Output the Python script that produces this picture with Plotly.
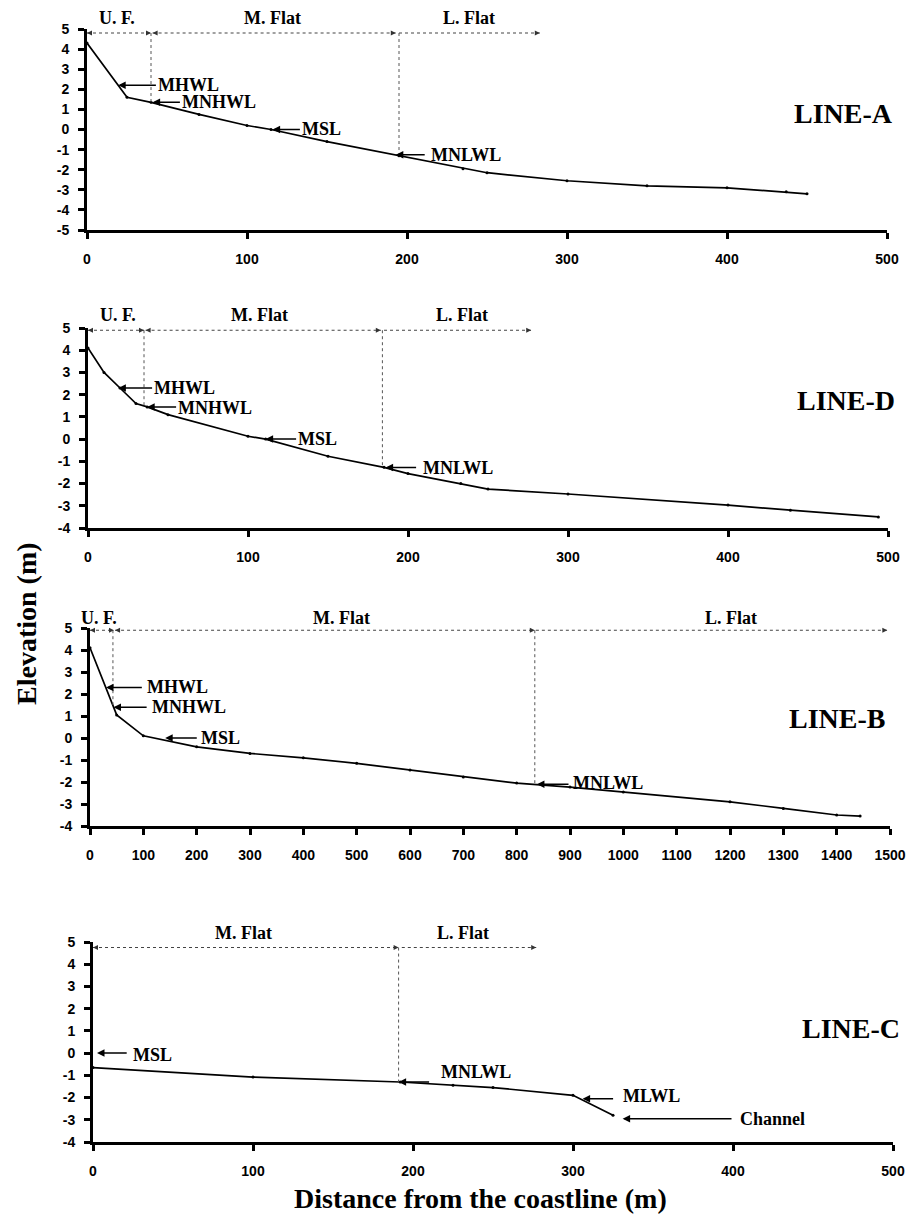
import plotly.graph_objects as go

W, H = 911, 1219

# ---------------- data ----------------
# Profile LINE-A
a_dist = [0, 25, 40, 70, 100, 115, 150, 195, 235, 250, 300, 350, 400, 437, 450]
a_elev = [4.3, 1.6, 1.35, 0.75, 0.2, 0.0, -0.6, -1.3, -1.95, -2.15, -2.55, -2.8, -2.9, -3.1, -3.2]
# Profile LINE-D
d_dist = [0, 10, 20, 30, 37, 50, 100, 111, 150, 185, 200, 233, 250, 300, 400, 439, 494]
d_elev = [4.1, 3.0, 2.3, 1.6, 1.45, 1.1, 0.13, 0.0, -0.77, -1.27, -1.55, -2.0, -2.25, -2.47, -2.97, -3.2, -3.5]
# Profile LINE-B
b_dist = [0, 50, 100, 200, 300, 400, 500, 600, 700, 800, 900, 1000, 1200, 1300, 1400, 1444]
b_elev = [4.1, 1.05, 0.1, -0.4, -0.7, -0.9, -1.15, -1.45, -1.77, -2.05, -2.23, -2.45, -2.9, -3.2, -3.5, -3.55]
# Profile LINE-C
c_dist = [0, 100, 192, 225, 250, 300, 325]
c_elev = [-0.65, -1.08, -1.3, -1.45, -1.55, -1.9, -2.8]

# Axis tick values
elev_ticks_a = [-5, -4, -3, -2, -1, 0, 1, 2, 3, 4, 5]
elev_ticks = [-4, -3, -2, -1, 0, 1, 2, 3, 4, 5]
dist_ticks_500 = [0, 100, 200, 300, 400, 500]
dist_ticks_1500 = [0, 100, 200, 300, 400, 500, 600, 700, 800, 900, 1000,
                   1100, 1200, 1300, 1400, 1500]

# Tidal-flat zones (start, end, label position)
a_zone_names = ["U. F.", "M. Flat", "L. Flat"]
a_zone_start = [0, 41, 195]
a_zone_end = [40, 193, 283]
a_zone_label_x = [19, 116, 239]
a_boundary_x = [40, 195]
a_boundary_elev = [1.35, -1.3]

d_zone_names = ["U. F.", "M. Flat", "L. Flat"]
d_zone_start = [0, 36, 185]
d_zone_end = [35, 183, 277]
d_zone_label_x = [19, 107, 234]
d_boundary_x = [35, 184]
d_boundary_elev = [1.45, -1.27]

b_zone_names = ["U. F.", "M. Flat", "L. Flat"]
b_zone_start = [0, 47, 836]
b_zone_end = [45, 834, 1495]
b_zone_label_x = [17, 472, 1202]
b_boundary_x = [43, 834]
b_boundary_elev = [1.5, -2.05]

c_zone_names = ["M. Flat", "L. Flat"]
c_zone_start = [0, 193]
c_zone_end = [191, 277]
c_zone_label_x = [94, 231]
c_boundary_x = [191]
c_boundary_elev = [-1.3]

# Water-level markers
a_lvl_names = ["MHWL", "MNHWL", "MSL", "MNLWL"]
a_lvl_head_x = [19.5, 41, 116, 193]
a_lvl_elev = [2.2, 1.35, 0.0, -1.25]
a_lvl_tail_x = [44, 59, 134, 212]
a_lvl_text_x = [43, 58, 133, 214]
a_lvl_text_elev = [2.2, 1.35, 0.0, -1.25]

d_lvl_names = ["MHWL", "MNHWL", "MSL", "MNLWL"]
d_lvl_head_x = [19, 37, 111, 186]
d_lvl_elev = [2.3, 1.45, 0.0, -1.28]
d_lvl_tail_x = [41, 56, 131, 206]
d_lvl_text_x = [40, 55, 130, 208]
d_lvl_text_elev = [2.3, 1.4, 0.0, -1.28]

b_lvl_names = ["MHWL", "MNHWL", "MSL", "MNLWL"]
b_lvl_head_x = [30, 44, 141, 838]
b_lvl_elev = [2.3, 1.4, 0.0, -2.1]
b_lvl_tail_x = [100, 109, 203, 900]
b_lvl_text_x = [103, 113, 204, 902]
b_lvl_text_elev = [2.3, 1.4, 0.0, -2.05]

c_lvl_names = ["MSL", "MNLWL", "MLWL", "Channel"]
c_lvl_head_x = [2.5, 191, 306, 331]
c_lvl_elev = [0.0, -1.3, -2.05, -2.95]
c_lvl_tail_x = [22, 211, 326, 400]
c_lvl_text_x = [24, 216, 330, 403]
c_lvl_text_elev = [-0.1, -0.85, -1.95, -2.95]

line_names = ["LINE-A", "LINE-D", "LINE-B", "LINE-C"]

# ---------------- layout geometry (pixels) ----------------
panels = [
    dict(name=line_names[0], dist=a_dist, elev=a_elev, xr=[0, 500], yr=[-5, 5],
         xt=dist_ticks_500, yt=elev_ticks_a,
         px=(87, 887), py=(29, 230), zy=4.8, ly=5.55, name_xy=(473, 0.8),
         zn=a_zone_names, zs=a_zone_start, ze=a_zone_end, zl=a_zone_label_x,
         bx=a_boundary_x, be=a_boundary_elev,
         ln=a_lvl_names, lhx=a_lvl_head_x, le=a_lvl_elev, ltx=a_lvl_tail_x,
         ltext=a_lvl_text_x, ltexte=a_lvl_text_elev),
    dict(name=line_names[1], dist=d_dist, elev=d_elev, xr=[0, 500], yr=[-4, 5],
         xt=dist_ticks_500, yt=elev_ticks,
         px=(88, 888), py=(328, 528), zy=4.9, ly=5.6, name_xy=(474, 1.75),
         zn=d_zone_names, zs=d_zone_start, ze=d_zone_end, zl=d_zone_label_x,
         bx=d_boundary_x, be=d_boundary_elev,
         ln=d_lvl_names, lhx=d_lvl_head_x, le=d_lvl_elev, ltx=d_lvl_tail_x,
         ltext=d_lvl_text_x, ltexte=d_lvl_text_elev),
    dict(name=line_names[2], dist=b_dist, elev=b_elev, xr=[0, 1500], yr=[-4, 5],
         xt=dist_ticks_1500, yt=elev_ticks,
         px=(90, 890), py=(628, 826), zy=4.9, ly=5.45, name_xy=(1400, 0.9),
         zn=b_zone_names, zs=b_zone_start, ze=b_zone_end, zl=b_zone_label_x,
         bx=b_boundary_x, be=b_boundary_elev,
         ln=b_lvl_names, lhx=b_lvl_head_x, le=b_lvl_elev, ltx=b_lvl_tail_x,
         ltext=b_lvl_text_x, ltexte=b_lvl_text_elev),
    dict(name=line_names[3], dist=c_dist, elev=c_elev, xr=[0, 500], yr=[-4, 5],
         xt=dist_ticks_500, yt=elev_ticks,
         px=(93, 893), py=(942, 1142), zy=4.75, ly=5.4, name_xy=(474, 1.1),
         zn=c_zone_names, zs=c_zone_start, ze=c_zone_end, zl=c_zone_label_x,
         bx=c_boundary_x, be=c_boundary_elev,
         ln=c_lvl_names, lhx=c_lvl_head_x, le=c_lvl_elev, ltx=c_lvl_tail_x,
         ltext=c_lvl_text_x, ltexte=c_lvl_text_elev),
]

SERIF = "Liberation Serif"
SANS = "Liberation Sans"

fig = go.Figure()
annotations = []
layout_axes = {}

for i, p in enumerate(panels, start=1):
    xa = "x" if i == 1 else f"x{i}"
    ya = "y" if i == 1 else f"y{i}"
    xkey = "xaxis" if i == 1 else f"xaxis{i}"
    ykey = "yaxis" if i == 1 else f"yaxis{i}"
    y0, y1 = p["yr"]

    # profile
    fig.add_trace(go.Scatter(
        x=p["dist"], y=p["elev"], mode="lines+markers",
        line=dict(color="black", width=1.7),
        marker=dict(size=3, color="black"),
        xaxis=xa, yaxis=ya, showlegend=False, hoverinfo="skip"))

    # zone boundaries (vertical dotted)
    for bx, be in zip(p["bx"], p["be"]):
        fig.add_trace(go.Scatter(
            x=[bx, bx], y=[p["zy"], be], mode="lines",
            line=dict(color="#555555", width=1, dash="dot"),
            xaxis=xa, yaxis=ya, showlegend=False, hoverinfo="skip"))

    # zone arrows
    for k, (zn, zs, ze, zl) in enumerate(zip(p["zn"], p["zs"], p["ze"], p["zl"])):
        fig.add_trace(go.Scatter(
            x=[zs, ze], y=[p["zy"], p["zy"]], mode="lines",
            line=dict(color="#444444", width=1.1, dash="dot"),
            xaxis=xa, yaxis=ya, showlegend=False, hoverinfo="skip"))
        if zn.startswith("L."):
            xs, syms = [ze], ["arrow-right"]
        else:
            xs, syms = [zs, ze], ["arrow-left", "arrow-right"]
        fig.add_trace(go.Scatter(
            x=xs, y=[p["zy"]] * len(xs), mode="markers",
            marker=dict(symbol=syms, size=5, color="#333333"),
            cliponaxis=False,
            xaxis=xa, yaxis=ya, showlegend=False, hoverinfo="skip"))
        annotations.append(dict(
            x=zl, y=(p["ly"] - y0) / (y1 - y0), xref=xa, yref=f"{ya} domain",
            text=zn, showarrow=False, xanchor="center", yanchor="middle",
            font=dict(family=SERIF, size=18, color="black", weight="bold")))

    # water level labels
    for nm, hx, le, tx, ttx, tte in zip(p["ln"], p["lhx"], p["le"], p["ltx"], p["ltext"], p["ltexte"]):
        annotations.append(dict(
            x=hx, y=le, ax=tx, ay=le, xref=xa, yref=ya, axref=xa, ayref=ya,
            text="", showarrow=True, arrowhead=2, arrowsize=1, arrowwidth=1.5,
            arrowcolor="black", standoff=0, startstandoff=0))
        annotations.append(dict(
            x=ttx, y=tte, xref=xa, yref=ya, text=nm, showarrow=False,
            xanchor="left", yanchor="middle",
            font=dict(family=SERIF, size=18, color="black", weight="bold")))

    # panel name
    annotations.append(dict(
        x=p["name_xy"][0], y=p["name_xy"][1], xref=xa, yref=ya, text=p["name"],
        showarrow=False, xanchor="center", yanchor="middle",
        font=dict(family=SERIF, size=28, color="black", weight="bold")))

    axis_common = dict(
        showline=True, linewidth=3, linecolor="black", mirror=False,
        ticks="outside", ticklen=6, tickwidth=2.5, tickcolor="black",
        showgrid=False, zeroline=False, automargin=False,
        tickfont=dict(family=SANS, size=14, color="black", weight="bold"),
    )
    layout_axes[xkey] = dict(
        axis_common, domain=[p["px"][0] / W, p["px"][1] / W], range=p["xr"],
        tickmode="array", tickvals=p["xt"], ticktext=[str(v) for v in p["xt"]],
        anchor=ya, ticklabelstandoff=8)
    layout_axes[ykey] = dict(
        axis_common, domain=[1 - p["py"][1] / H, 1 - p["py"][0] / H], range=p["yr"],
        tickmode="array", tickvals=p["yt"], ticktext=[str(v) for v in p["yt"]],
        anchor=xa, ticklabelstandoff=6)

# axis titles
annotations.append(dict(
    x=26 / W, y=1 - 624 / H, xref="paper", yref="paper", text="Elevation (m)",
    textangle=-90, showarrow=False, xanchor="center", yanchor="middle",
    font=dict(family=SERIF, size=28, color="black", weight="bold")))
annotations.append(dict(
    x=480 / W, y=1 - 1198 / H, xref="paper", yref="paper",
    text="Distance from the coastline (m)",
    showarrow=False, xanchor="center", yanchor="middle",
    font=dict(family=SERIF, size=28, color="black", weight="bold")))

fig.update_layout(
    width=W, height=H, margin=dict(l=0, r=0, t=0, b=0, autoexpand=False),
    paper_bgcolor="white", plot_bgcolor="white",
    showlegend=False, annotations=annotations, **layout_axes)

fig.write_html(
    "out.html",
    config={"displayModeBar": False},
    post_script="document.body.style.margin='0px';document.body.style.overflow='hidden';",
)
